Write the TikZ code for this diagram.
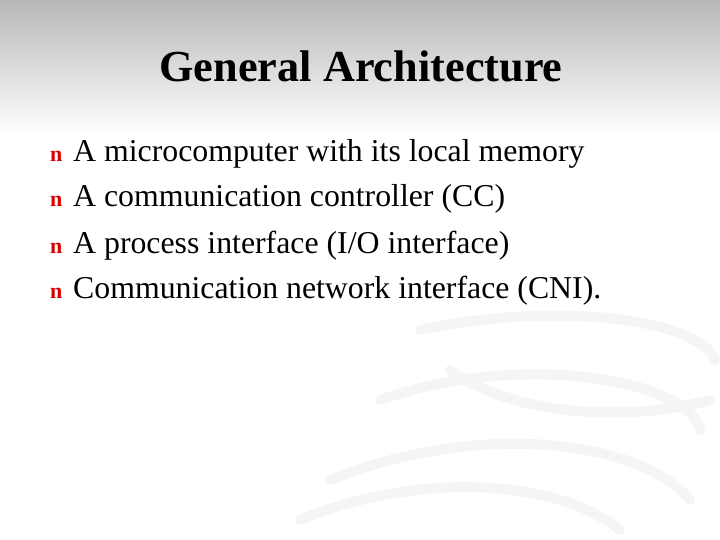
\documentclass[tikz,border=0pt]{standalone}
\usepackage{fontspec}
\setmainfont{Liberation Serif}
\begin{document}
\begin{tikzpicture}[x=1pt,y=-1pt,
  bul/.style={anchor=base west,text=red!85!black,font=\fontsize{22}{22}\selectfont\bfseries,inner sep=0},
  item/.style={anchor=base west,font=\fontsize{31.8}{32}\selectfont,inner sep=0}]
\useasboundingbox (0,0) rectangle (720,540);
\fill[white] (0,0) rectangle (720,540);
\shade[top color=black!28,bottom color=white] (0,0) rectangle (720,135);
\begin{scope}[black!4,line width=10pt,line cap=round]
\draw (420,330) .. controls (560,300) and (700,320) .. (715,360);
\draw (380,400) .. controls (520,350) and (690,380) .. (700,430);
\draw (330,480) .. controls (480,420) and (640,440) .. (690,500);
\draw (450,370) .. controls (520,420) and (640,420) .. (710,400);
\draw (300,520) .. controls (420,470) and (560,480) .. (620,530);
\end{scope}
\node[anchor=base,font=\fontsize{44.3}{44}\selectfont\bfseries] (t) at (361,82) {General Architecture};
\node[bul] (b1) at (50,162) {n};
\node[item] (i1) at (73,162) {A microcomputer with its local memory};
\node[bul] (b2) at (50,207) {n};
\node[item] (i2) at (73,207) {A communication controller (CC)};
\node[bul] (b3) at (50,253) {n};
\node[item] (i3) at (73,253) {A process interface (I/O interface)};
\node[bul] (b4) at (50,298) {n};
\node[item] (i4) at (73,298) {Communication network interface (CNI).};
\end{tikzpicture}
\end{document}
